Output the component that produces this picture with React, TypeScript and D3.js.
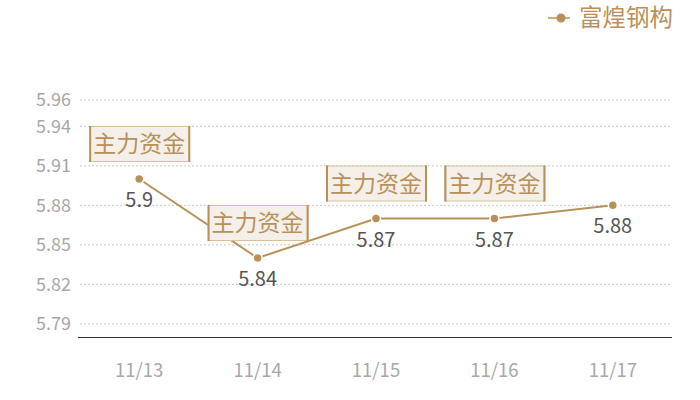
import { useMemo } from "react";
import * as d3 from "d3";

const categories = ["11/13", "11/14", "11/15", "11/16", "11/17"];
const values = [5.9, 5.84, 5.87, 5.87, 5.88];
const yTicks = [5.79, 5.82, 5.85, 5.88, 5.91, 5.94, 5.96];
const flagged = ["11/13", "11/14", "11/15", "11/16"];
const seriesName = "富煌钢构";
const flagText = "主力资金";

const WIDTH = 700;
const HEIGHT = 400;
const MARGIN = { top: 100, right: 28, bottom: 63, left: 80 };
const GOLD = "#b8915a";
const FONT = "'Noto Sans CJK SC', 'Noto Sans', sans-serif";

const App = () => {
  const boundsWidth = WIDTH - MARGIN.left - MARGIN.right;
  const boundsHeight = HEIGHT - MARGIN.top - MARGIN.bottom;

  const xScale = useMemo(
    () => d3.scaleBand().domain(categories).range([0, boundsWidth]),
    [boundsWidth]
  );
  const yScale = useMemo(
    () => d3.scaleLinear().domain([5.78, 5.96]).range([boundsHeight, 0]),
    [boundsHeight]
  );

  const data = categories.map((c, i) => ({ c, v: values[i] }));
  const cx = (c: string) => (xScale(c) || 0) + xScale.bandwidth() / 2;

  const linePath = d3
    .line<{ c: string; v: number }>()
    .x((d) => cx(d.c))
    .y((d) => yScale(d.v))(data);

  return (
    <svg
      width={WIDTH}
      height={HEIGHT}
      style={{ position: "absolute", left: 0, top: 0, fontFamily: FONT }}
    >
      {/* legend */}
      <g transform="translate(548,18)">
        <line x1={0} x2={22} y1={0} y2={0} stroke={GOLD} strokeWidth={1.5} />
        <circle cx={13} cy={0} r={4.5} fill={GOLD} />
        <text x={31} y={0} dy="0.36em" fontSize={23.5} fill={GOLD}>
          {seriesName}
        </text>
      </g>

      <g transform={`translate(${MARGIN.left},${MARGIN.top})`}>
        {/* grid + y labels */}
        {yTicks.map((t) => (
          <g key={t} transform={`translate(0,${yScale(t)})`}>
            <line
              x1={0}
              x2={boundsWidth}
              stroke="#c8c8c8"
              strokeDasharray="2,2"
              strokeWidth={1}
            />
            <text
              x={-9}
              dy="0.35em"
              textAnchor="end"
              fontSize={18}
              fill="#a8a8a8"
            >
              {t.toFixed(2)}
            </text>
          </g>
        ))}

        {/* x axis */}
        <line
          x1={-2}
          x2={boundsWidth}
          y1={boundsHeight + 0.5}
          y2={boundsHeight + 0.5}
          stroke="#333"
          strokeWidth={1}
        />
        {categories.map((c) => (
          <text
            key={c}
            x={cx(c)}
            y={boundsHeight + 34}
            dy="0.35em"
            textAnchor="middle"
            fontSize={18.5}
            fill="#a8a8a8"
          >
            {c}
          </text>
        ))}

        {/* series */}
        <path d={linePath || ""} fill="none" stroke={GOLD} strokeWidth={2} />
        {data.map((d) => (
          <g key={d.c} transform={`translate(${cx(d.c)},${yScale(d.v)})`}>
            <circle r={4.5} fill={GOLD} stroke="#fff" strokeWidth={1.5} />
            <text
              y={21}
              dy="0.35em"
              textAnchor="middle"
              fontSize={20}
              fill="#555"
            >
              {d.v}
            </text>
          </g>
        ))}

        {/* flags */}
        {data
          .filter((d) => flagged.includes(d.c))
          .map((d) => {
            const x = cx(d.c) - 50;
            const y = yScale(d.v) - 18 - 35;
            return (
              <g key={"f" + d.c} transform={`translate(${x},${y})`}>
                <rect
                  x={0.5}
                  y={0.5}
                  width={100}
                  height={35}
                  fill="#f4efe8"
                  stroke="#d8c09a"
                  strokeWidth={1}
                />
                <line x1={1} x2={1} y1={0} y2={36} stroke={GOLD} strokeWidth={2} />
                <line x1={100} x2={100} y1={0} y2={36} stroke={GOLD} strokeWidth={2} />
                <text
                  x={50}
                  y={18}
                  dy="0.36em"
                  textAnchor="middle"
                  fontSize={23}
                  fill={GOLD}
                >
                  {flagText}
                </text>
              </g>
            );
          })}
      </g>
    </svg>
  );
};

export default App;
